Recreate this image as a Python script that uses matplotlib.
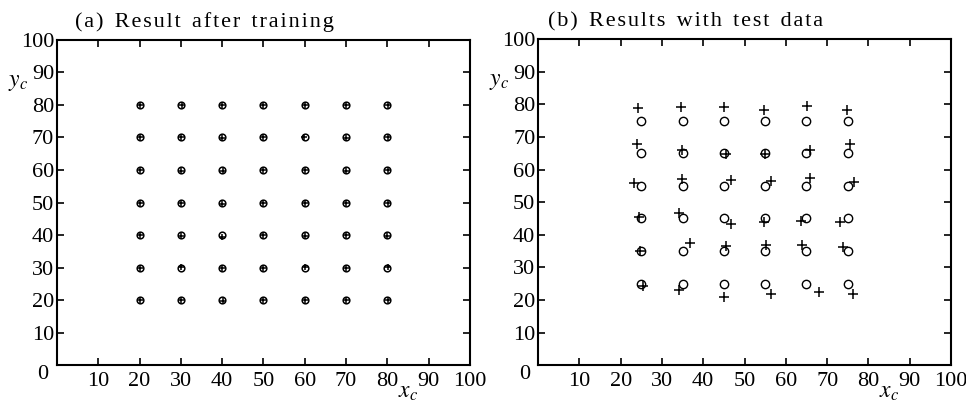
import matplotlib
matplotlib.use("Agg")
import matplotlib.pyplot as plt

plt.rcParams['font.family'] = ['Liberation Serif', 'DejaVu Serif']
plt.rcParams['mathtext.fontset'] = 'stix'

# (a) training: grid nodes (circles) and network result (pluses)
train_grid = [20, 30, 40, 50, 60, 70, 80]
train_px = [[20.1, 30.2, 40.0, 49.9, 60.1, 70.0, 80.2],
            [20.0, 30.1, 40.0, 50.0, 59.9, 70.0, 80.1],
            [20.0, 30.0, 40.1, 49.9, 60.0, 70.0, 80.1],
            [20.1, 30.1, 40.0, 49.9, 60.0, 70.0, 80.1],
            [20.0, 30.1, 40.0, 50.0, 60.1, 70.0, 80.0],
            [20.0, 30.1, 40.0, 50.0, 60.1, 70.0, 80.1],
            [20.0, 30.1, 40.1, 50.0, 60.0, 70.0, 80.1]]
train_py = [[80.1, 80.0, 80.1, 80.0, 80.0, 80.0, 80.0],
            [70.0, 70.2, 69.9, 70.0, 70.2, 69.9, 70.2],
            [59.9, 59.8, 59.6, 59.9, 59.9, 59.8, 59.9],
            [49.9, 49.8, 49.6, 49.8, 49.8, 49.8, 49.7],
            [40.0, 39.7, 39.4, 40.0, 39.6, 40.0, 39.7],
            [30.0, 30.1, 29.9, 30.0, 30.1, 30.0, 30.1],
            [20.0, 20.0, 19.7, 20.1, 20.0, 20.0, 20.0]]

# (b) test: test nodes (circles) and network result (pluses)
test_grid = [25, 35, 45, 55, 65, 75]
test_px = [[24.2, 34.5, 45.0, 54.7, 65.1, 74.7],
           [24.0, 34.9, 45.4, 55.0, 65.9, 75.6],
           [23.3, 34.9, 46.7, 56.4, 65.8, 76.6],
           [24.5, 34.2, 46.7, 54.6, 63.7, 73.2],
           [24.8, 36.9, 45.4, 55.2, 63.9, 73.8],
           [25.3, 34.1, 45.0, 56.4, 68.0, 76.3]]
test_py = [[78.8, 79.2, 79.1, 78.3, 79.4, 78.1],
           [67.9, 66.0, 64.9, 64.7, 66.0, 67.8],
           [55.9, 57.0, 56.8, 56.6, 57.3, 56.3],
           [45.5, 46.7, 43.2, 44.0, 44.2, 44.0],
           [34.9, 37.4, 36.6, 36.8, 36.8, 36.3],
           [24.3, 23.0, 21.0, 21.8, 22.3, 21.8]]

ticks = [10, 20, 30, 40, 50, 60, 70, 80, 90, 100]

fig = plt.figure(figsize=(9.66, 4.03), dpi=100)
ax1 = fig.add_axes([0.059, 0.094, 0.4275, 0.807])
ax2 = fig.add_axes([0.557, 0.094, 0.4275, 0.809])


def spaced(s):
    # slight letter spacing like the original print
    return "\u200a".join(s).replace("\u200a \u200a", "  ")


def setup(ax, title, tx):
    ax.set_xlim(0, 100)
    ax.set_ylim(0, 100)
    ax.set_xticks(ticks)
    ax.set_yticks(ticks)
    ax.tick_params(direction='in', top=True, right=True, length=5, width=1.2,
                   labelsize=16, pad=2)
    ax.tick_params(axis='x', pad=5)
    for s in ax.spines.values():
        s.set_linewidth(1.5)
    ax.text(-0.02, -0.028, "0", transform=ax.transAxes, fontsize=16,
            ha='right', va='center')
    ax.text(-0.095, 0.87, "$y_c$", transform=ax.transAxes, fontsize=17,
            ha='center', va='center')
    ax.text(0.85, -0.085, "$x_c$", transform=ax.transAxes, fontsize=17,
            ha='center', va='center')
    fig.text(tx, 0.945, spaced(title), fontsize=16, ha='left', va='center')


for i in range(len(train_grid)):
    yv = train_grid[len(train_grid) - 1 - i]
    ax1.plot(train_grid, [yv] * len(train_grid), 'o', color='black', ms=4.8,
             mfc='none', mew=1.1)
    ax1.plot(train_px[i], train_py[i], '+', color='black', ms=4.8, mew=1.1)

for i in range(len(test_grid)):
    yv = test_grid[len(test_grid) - 1 - i]
    ax2.plot(test_grid, [yv] * len(test_grid), 'o', color='black', ms=6,
             mfc='none', mew=1.0)
    ax2.plot(test_px[i], test_py[i], '+', color='black', ms=7, mew=1.1)

setup(ax1, "(a) Result after training", 0.078)
setup(ax2, "(b) Results with test data", 0.567)

fig.savefig("out.png", dpi=100)
